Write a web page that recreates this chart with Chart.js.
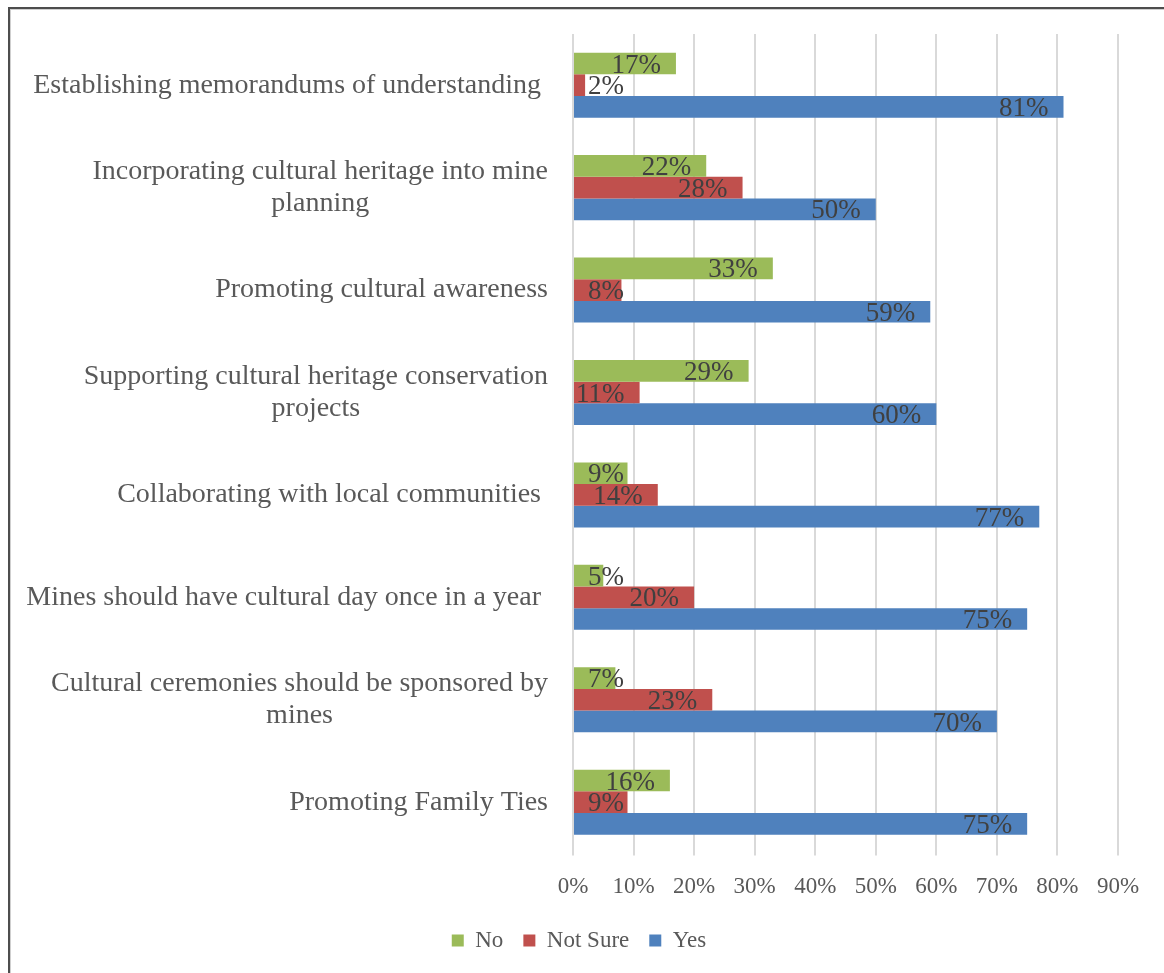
<!DOCTYPE html>
<html>
<head>
<meta charset="utf-8">
<script src="https://cdn.jsdelivr.net/npm/chart.js@4.4.1/dist/chart.umd.min.js"></script>
<style>
    html, body { margin: 0; padding: 0; background: #fff; }
    #wrap { position: relative; width: 1164px; height: 973px; overflow: hidden; }
    #frame {
        position: absolute; left: 8px; top: 7px; width: 1200px; height: 1000px;
        border-left: 2px solid #4d4d4d; border-top: 2px solid #4d4d4d;
        box-shadow: inset 1px 1px 0 #cfcfcf;
    }
    #chart { position: absolute; left: 0; top: 0; }
</style>
</head>
<body>
<div id="wrap">
    <div id="frame"></div>
    <canvas id="chart" width="1164" height="973"></canvas>
</div>
<script>
// Kategorien (von oben nach unten)
const categories = [
    ['Establishing memorandums of understanding '],
    ['Incorporating cultural heritage into mine', 'planning'],
    ['Promoting cultural awareness'],
    ['Supporting cultural heritage conservation', 'projects'],
    ['Collaborating with local communities '],
    ['Mines should have cultural day once in a year '],
    ['Cultural ceremonies should be sponsored by', 'mines'],
    ['Promoting Family Ties']
];

const noValues      = [17, 22, 33, 29, 9, 5, 7, 16];
const notSureValues = [2, 28, 8, 11, 14, 20, 23, 9];
const yesValues     = [81, 50, 59, 60, 77, 75, 70, 75];

const xTicks = [0, 10, 20, 30, 40, 50, 60, 70, 80, 90];

const serif = "'Liberation Serif', 'Times New Roman', serif";
Chart.defaults.font.family = serif;
Chart.defaults.color = '#595959';

// Kategorie-Beschriftungen wie in Excel: Block rechtsbündig, Zeilen zentriert
const categoryLabels = {
    id: 'categoryLabels',
    afterDraw(chart) {
        const ctx = chart.ctx;
        const yScale = chart.scales.y;
        const right = 548;
        const lineHeight = 32;
        ctx.save();
        ctx.font = '28px ' + serif;
        ctx.fillStyle = '#595959';
        ctx.textAlign = 'center';
        ctx.textBaseline = 'middle';
        categories.forEach((lines, i) => {
            const y = yScale.getPixelForValue(i);
            const w = Math.max(...lines.map(l => ctx.measureText(l).width));
            lines.forEach((line, j) => {
                const ly = y + (j - (lines.length - 1) / 2) * lineHeight;
                ctx.fillText(line, right - w / 2, ly);
            });
        });
        ctx.restore();
    }
};

// Datenbeschriftungen "innen Ende"
const valueLabels = {
    id: 'valueLabels',
    afterDatasetsDraw(chart) {
        const ctx = chart.ctx;
        ctx.save();
        ctx.font = '27px ' + serif;
        ctx.fillStyle = '#404040';
        ctx.textAlign = 'right';
        ctx.textBaseline = 'middle';
        chart.data.datasets.forEach((ds, di) => {
            const meta = chart.getDatasetMeta(di);
            meta.data.forEach((bar, i) => {
                const x = Math.max(bar.x - 15, bar.base + 50);
                ctx.fillText(ds.data[i] + '%', x, bar.y + 2);
            });
        });
        ctx.restore();
    }
};

const ctx = document.getElementById('chart').getContext('2d');
new Chart(ctx, {
    type: 'bar',
    data: {
        labels: categories,
        datasets: [
            { label: 'No', data: noValues, backgroundColor: '#9bbb59' },
            { label: 'Not Sure', data: notSureValues, backgroundColor: '#c0504d' },
            { label: 'Yes', data: yesValues, backgroundColor: '#4f81bd' }
        ]
    },
    options: {
        indexAxis: 'y',
        responsive: false,
        animation: false,
        layout: { padding: { left: 40, right: 46, top: 34, bottom: 11 } },
        datasets: {
            bar: { categoryPercentage: 0.635, barPercentage: 1.0 }
        },
        scales: {
            x: {
                min: 0,
                max: 90,
                afterBuildTicks: (scale) => {
                    scale.ticks = xTicks.map(v => ({ value: v }));
                },
                afterFit: (scale) => { scale.height = 55.6; },
                grid: { color: '#d9d9d9', lineWidth: 2, tickLength: 2, drawTicks: true },
                border: { display: false },
                ticks: {
                    padding: 18,
                    font: { size: 23 },
                    color: '#595959',
                    maxRotation: 0,
                    callback: (v) => v + '%'
                }
            },
            y: {
                grid: { display: false },
                border: { display: false },
                ticks: { display: false },
                afterFit: (scale) => { scale.width = 533; }
            }
        },
        plugins: {
            legend: {
                position: 'bottom',
                labels: {
                    boxWidth: 12,
                    boxHeight: 12,
                    padding: 20,
                    font: { size: 23 },
                    color: '#595959'
                }
            },
            tooltip: { enabled: false }
        }
    },
    plugins: [categoryLabels, valueLabels]
});
</script>
</body>
</html>
